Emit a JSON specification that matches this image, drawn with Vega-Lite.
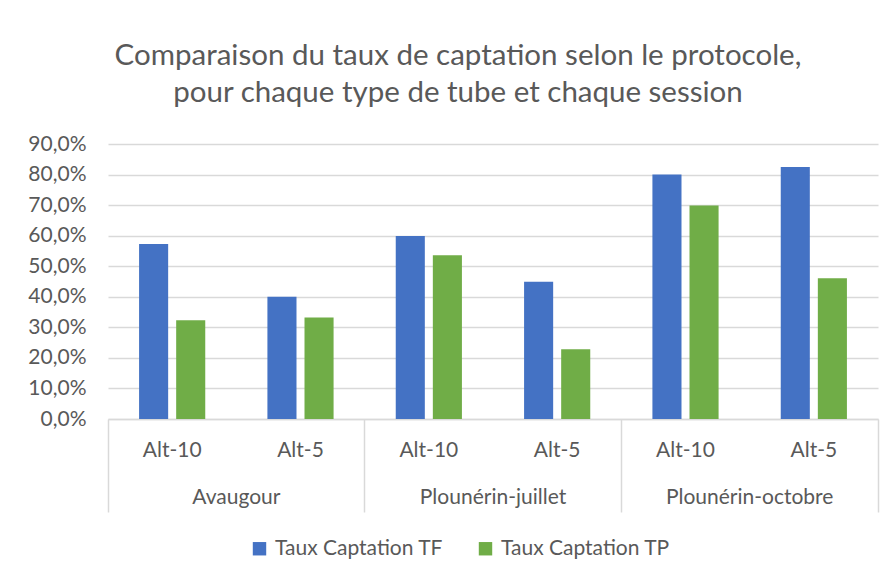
{
  "$schema": "https://vega.github.io/schema/vega-lite/v6.json",
  "width": 770,
  "height": 275,
  "autosize": "none",
  "padding": {"left": 108, "top": 144, "right": 16, "bottom": 162},
  "background": "white",
  "title": {
    "text": ["Comparaison du taux de captation selon le protocole,", "pour chaque type de tube et chaque session"],
    "anchor": "middle",
    "frame": "group",
    "dx": -35,
    "offset": 25,
    "fontSize": 29.5,
    "font": "Lato",
    "fontWeight": "normal",
    "color": "#595959",
    "lineHeight": 37
  },
  "data": {
    "values": [
      {"session": "Avaugour", "type": "Alt-10", "serie": "Taux Captation TF", "value": 0.573},
      {"session": "Avaugour", "type": "Alt-10", "serie": "Taux Captation TP", "value": 0.323},
      {"session": "Avaugour", "type": "Alt-5", "serie": "Taux Captation TF", "value": 0.400},
      {"session": "Avaugour", "type": "Alt-5", "serie": "Taux Captation TP", "value": 0.332},
      {"session": "Plounérin-juillet", "type": "Alt-10", "serie": "Taux Captation TF", "value": 0.599},
      {"session": "Plounérin-juillet", "type": "Alt-10", "serie": "Taux Captation TP", "value": 0.536},
      {"session": "Plounérin-juillet", "type": "Alt-5", "serie": "Taux Captation TF", "value": 0.449},
      {"session": "Plounérin-juillet", "type": "Alt-5", "serie": "Taux Captation TP", "value": 0.228},
      {"session": "Plounérin-octobre", "type": "Alt-10", "serie": "Taux Captation TF", "value": 0.800},
      {"session": "Plounérin-octobre", "type": "Alt-10", "serie": "Taux Captation TP", "value": 0.699},
      {"session": "Plounérin-octobre", "type": "Alt-5", "serie": "Taux Captation TF", "value": 0.825},
      {"session": "Plounérin-octobre", "type": "Alt-5", "serie": "Taux Captation TP", "value": 0.461}
    ]
  },
  "transform": [{"calculate": "datum.session + '|' + datum.type", "as": "key"}],
  "resolve": {"axis": {"x": "independent"}},
  "layer": [
    {
      "mark": {"type": "bar"},
      "encoding": {
        "x": {
          "field": "key", "type": "nominal", "sort": null,
          "scale": {"paddingInner": 0, "paddingOuter": 0},
          "axis": {
            "orient": "bottom", "title": null, "labelAngle": 0,
            "labelExpr": "split(datum.value, '|')[1]",
            "ticks": false, "domain": true, "domainColor": "#d9d9d9", "domainWidth": 1.5,
            "labelPadding": 20, "labelFontSize": 21, "labelFont": "Lato", "labelColor": "#595959",
            "labelBaseline": "top", "labelAlign": "center"
          }
        },
        "xOffset": {
          "field": "serie", "type": "nominal",
          "scale": {"paddingInner": 0.216, "paddingOuter": 0.838}
        },
        "y": {
          "field": "value", "type": "quantitative",
          "scale": {"domain": [0, 0.9], "nice": false},
          "axis": {
            "title": null, "values": [0, 0.1, 0.2, 0.3, 0.4, 0.5, 0.6, 0.7, 0.8, 0.9],
            "labelExpr": "replace(format(datum.value, '.1%'), '.', ',')",
            "domain": false, "ticks": false, "grid": true, "gridColor": "#d9d9d9", "gridWidth": 1.5,
            "labelPadding": 22, "labelFontSize": 21, "labelFont": "Lato", "labelColor": "#595959"
          }
        },
        "color": {
          "field": "serie", "type": "nominal",
          "scale": {"domain": ["Taux Captation TF", "Taux Captation TP"], "range": ["#4472C4", "#70AD47"]},
          "legend": {
            "title": null, "orient": "none", "legendX": 141, "legendY": 394,
            "direction": "horizontal", "symbolType": "square", "symbolSize": 180,
            "symbolStrokeWidth": 0, "labelFontSize": 21, "labelFont": "Lato", "labelColor": "#595959",
            "labelOffset": 5, "columnPadding": 31, "labelLimit": 0
          }
        }
      }
    },
    {
      "mark": {"type": "point", "opacity": 0},
      "encoding": {
        "x": {
          "field": "key", "type": "nominal", "sort": null,
          "axis": {
            "orient": "bottom", "title": null, "labels": false, "domain": false, "grid": false,
            "values": ["Avaugour|Alt-10", "Plounérin-juillet|Alt-10", "Plounérin-octobre|Alt-10"],
            "bandPosition": 0, "ticks": true, "tickSize": 93, "tickColor": "#d9d9d9", "tickWidth": 1.5
          }
        }
      }
    },
    {
      "mark": {"type": "point", "opacity": 0},
      "encoding": {
        "x": {
          "field": "key", "type": "nominal", "sort": null,
          "axis": {
            "orient": "bottom", "title": null, "labels": false, "domain": false, "grid": false,
            "values": ["Plounérin-octobre|Alt-5"],
            "bandPosition": 1, "ticks": true, "tickSize": 93, "tickColor": "#d9d9d9", "tickWidth": 1.5
          }
        }
      }
    },
    {
      "mark": {"type": "point", "opacity": 0},
      "encoding": {
        "x": {
          "field": "key", "type": "nominal", "sort": null,
          "axis": {
            "orient": "bottom", "title": null, "domain": false, "grid": false, "ticks": false,
            "values": ["Avaugour|Alt-10", "Plounérin-juillet|Alt-10", "Plounérin-octobre|Alt-10"],
            "labelOffset": 64.17, "labelAngle": 0, "labelAlign": "center",
            "labelExpr": "split(datum.value, '|')[0]",
            "labelPadding": 67, "labelFontSize": 21, "labelFont": "Lato", "labelColor": "#595959",
            "labelBaseline": "top"
          }
        }
      }
    }
  ],
  "config": {"view": {"stroke": null}}
}
